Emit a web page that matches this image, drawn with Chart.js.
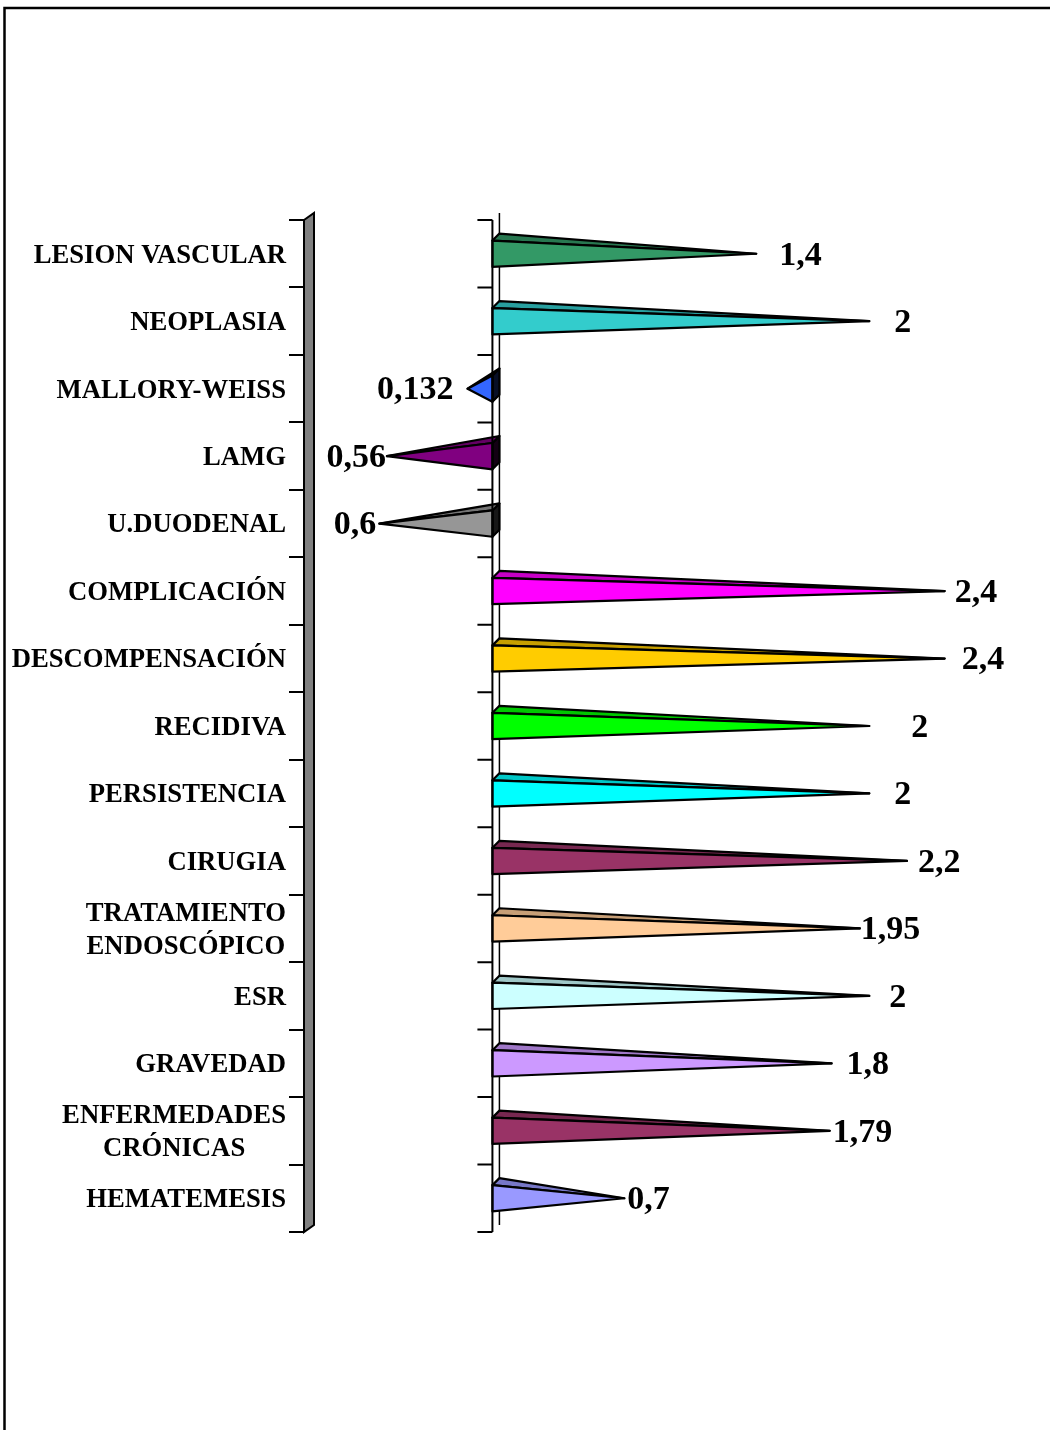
<!DOCTYPE html>
<html>
<head>
<meta charset="utf-8">
<title>Factores de riesgo</title>
<script src="https://cdn.jsdelivr.net/npm/chart.js@4.4.0/dist/chart.umd.min.js"></script>
<style>
  html, body { margin: 0; padding: 0; background: #fff; }
  #wrap { width: 1050px; height: 1430px; }
</style>
</head>
<body>
<div id="wrap"><canvas id="riskChart" width="1050" height="1430"></canvas></div>
<script>
// Categories (multi-line labels as arrays), top to bottom
const categories = [
    ['LESION VASCULAR'],
    ['NEOPLASIA'],
    ['MALLORY-WEISS'],
    ['LAMG'],
    ['U.DUODENAL'],
    ['COMPLICACIÓN'],
    ['DESCOMPENSACIÓN'],
    ['RECIDIVA'],
    ['PERSISTENCIA'],
    ['CIRUGIA'],
    ['TRATAMIENTO', 'ENDOSCÓPICO'],
    ['ESR'],
    ['GRAVEDAD'],
    ['ENFERMEDADES', 'CRÓNICAS'],
    ['HEMATEMESIS']
];

// Values (negative ones point left of the zero line)
const values = [1.4, 2, -0.132, -0.56, -0.6, 2.4, 2.4, 2, 2, 2.2, 1.95, 2, 1.8, 1.79, 0.7];

// Fill colour of each pyramid
const colors = [
    '#339966', '#33CCCC', '#3366FF', '#800080', '#969696',
    '#FF00FF', '#FFCC00', '#00FF00', '#00FFFF', '#993366',
    '#FFCC99', '#CCFFFF', '#CC99FF', '#993366', '#9999FF'
];

// Horizontal gap between each pyramid tip and its value label (px)
const labelGap = [23, 25, 14, 1, 3, 10, 17, 42, 25, 11, 1, 20, 15, 3, 3];

const serif = '"Times New Roman", "Liberation Serif", serif';
const depth = 7; // 3D offset of the back plane

// Shade a hex colour by a factor
function shade(hex, f) {
    const n = parseInt(hex.slice(1), 16);
    const r = Math.round(((n >> 16) & 255) * f);
    const g = Math.round(((n >> 8) & 255) * f);
    const b = Math.round((n & 255) * f);
    return 'rgb(' + r + ',' + g + ',' + b + ')';
}

// Comma as decimal separator, magnitude only
function formatValue(v) {
    return String(Math.abs(v)).replace('.', ',');
}

function polygon(ctx, pts, fill) {
    ctx.beginPath();
    ctx.moveTo(pts[0][0], pts[0][1]);
    for (let i = 1; i < pts.length; i++) ctx.lineTo(pts[i][0], pts[i][1]);
    ctx.closePath();
    ctx.fillStyle = fill;
    ctx.fill();
    ctx.stroke();
}

// Draws the side wall, zero axis, pyramids, labels and frame
const pyramidPlugin = {
    id: 'pyramids',
    beforeDatasetsDraw(chart) {
        const ctx = chart.ctx;
        const area = chart.chartArea;
        const x0 = chart.scales.x.getPixelForValue(0);
        ctx.save();
        ctx.strokeStyle = '#000';
        ctx.lineWidth = 2;
        ctx.lineJoin = 'miter';
        // grey wall next to the category axis
        polygon(ctx, [
            [area.left, area.top],
            [area.left + 10, area.top - depth],
            [area.left + 10, area.bottom - depth],
            [area.left, area.bottom]
        ], '#808080');
        // back plane zero line
        ctx.lineWidth = 1.5;
        ctx.beginPath();
        ctx.moveTo(x0 + depth, area.top - depth);
        ctx.lineTo(x0 + depth, area.bottom - depth);
        ctx.stroke();
        ctx.restore();
    },
    afterDatasetsDraw(chart) {
        const ctx = chart.ctx;
        const area = chart.chartArea;
        const yScale = chart.scales.y;
        const x0 = chart.scales.x.getPixelForValue(0);
        const meta = chart.getDatasetMeta(0);
        ctx.save();
        ctx.strokeStyle = '#000';
        ctx.lineWidth = 2.2;
        ctx.lineJoin = 'round';

        meta.data.forEach(function(bar, i) {
            const p = bar.getProps(['x', 'y', 'base', 'height'], true);
            const top = p.y - p.height / 2;
            const bottom = p.y + p.height / 2;
            const col = colors[i];
            if (values[i] < 0) {
                // end face of the base, seen from the right
                polygon(ctx, [
                    [p.base, top], [p.base + depth, top - depth],
                    [p.base + depth, bottom - depth], [p.base, bottom]
                ], shade(col, 0.15));
            }
            // top face
            polygon(ctx, [[p.base, top], [p.base + depth, top - depth], [p.x, p.y]], shade(col, 0.78));
            // front face
            polygon(ctx, [[p.base, top], [p.x, p.y], [p.base, bottom]], col);

            // value label
            ctx.fillStyle = '#000';
            ctx.font = 'bold 34px ' + serif;
            ctx.textBaseline = 'middle';
            if (values[i] < 0) {
                ctx.textAlign = 'right';
                ctx.fillText(formatValue(values[i]), p.x - labelGap[i], p.y + 2);
            } else {
                ctx.textAlign = 'left';
                ctx.fillText(formatValue(values[i]), p.x + labelGap[i], p.y + 2);
            }
        });

        // front zero line with its ticks at category boundaries
        ctx.lineWidth = 2;
        ctx.lineJoin = 'miter';
        ctx.beginPath();
        ctx.moveTo(x0, area.top);
        ctx.lineTo(x0, area.bottom);
        const step = yScale.getPixelForValue(1) - yScale.getPixelForValue(0);
        for (let i = 0; i <= categories.length; i++) {
            const y = yScale.getPixelForValue(i) - step / 2;
            ctx.moveTo(x0 - 15, y);
            ctx.lineTo(x0, y);
        }
        ctx.stroke();
        ctx.restore();
    },
    afterDraw(chart) {
        const ctx = chart.ctx;
        const area = chart.chartArea;
        const yScale = chart.scales.y;
        ctx.save();
        // category labels: block right-aligned, lines centred inside the block
        ctx.fillStyle = '#000';
        ctx.font = 'bold 26.7px ' + serif;
        ctx.textBaseline = 'middle';
        ctx.textAlign = 'center';
        const right = area.left - 18;
        const lineH = 33;
        categories.forEach(function(lines, i) {
            const cy = yScale.getPixelForValue(i) + 2;
            const w = Math.max.apply(null, lines.map(function(s) { return ctx.measureText(s).width; }));
            const cx = right - w / 2;
            lines.forEach(function(s, k) {
                ctx.fillText(s, cx, cy + (k - (lines.length - 1) / 2) * lineH);
            });
        });
        // outer frame (top and left)
        ctx.strokeStyle = '#000';
        ctx.lineWidth = 2.5;
        ctx.beginPath();
        ctx.moveTo(4.5, 1430);
        ctx.lineTo(4.5, 8);
        ctx.lineTo(1050, 8);
        ctx.stroke();
        ctx.restore();
    }
};

const riskChart = new Chart(document.getElementById('riskChart').getContext('2d'), {
    type: 'bar',
    data: {
        labels: categories,
        datasets: [{
            data: values,
            backgroundColor: 'rgba(0,0,0,0)',
            borderWidth: 0,
            barPercentage: 0.39,
            categoryPercentage: 1
        }]
    },
    options: {
        indexAxis: 'y',
        responsive: false,
        animation: false,
        events: [],
        layout: {
            padding: { top: 220, bottom: 198, left: 0, right: 30 }
        },
        scales: {
            x: {
                type: 'linear',
                min: -1,
                max: 2.8,
                display: false
            },
            y: {
                type: 'category',
                offset: true,
                border: { display: false },
                grid: {
                    offset: true,
                    drawOnChartArea: false,
                    drawTicks: true,
                    tickLength: 15,
                    color: '#000',
                    lineWidth: 2
                },
                ticks: { display: false },
                afterFit(scale) {
                    scale.width = 304;
                }
            }
        },
        plugins: {
            legend: { display: false },
            tooltip: { enabled: false }
        }
    },
    plugins: [pyramidPlugin]
});
</script>
</body>
</html>
